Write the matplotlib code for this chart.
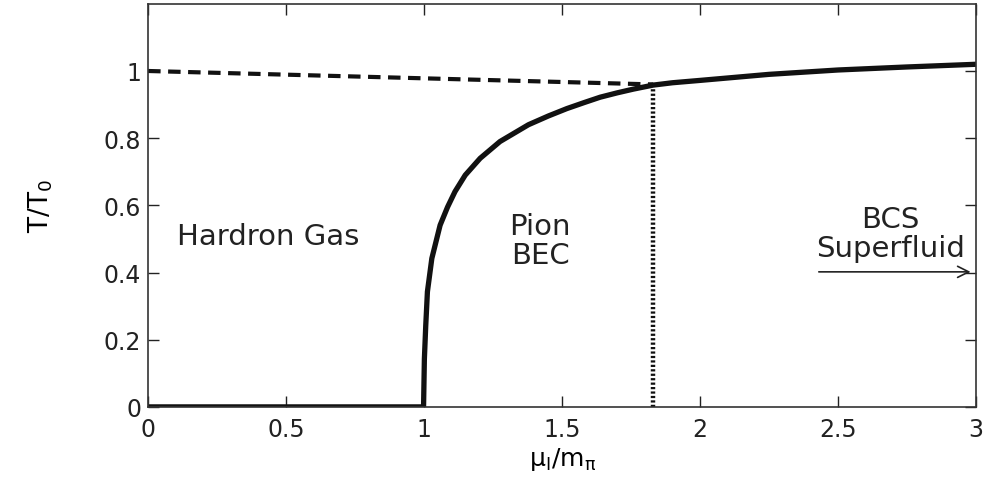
import matplotlib
matplotlib.use("Agg")
import matplotlib.pyplot as plt

plt.rcParams["font.family"] = ["DejaVu Sans"]
plt.rcParams["mathtext.fontset"] = "dejavusans"
plt.rcParams["mathtext.default"] = "regular"

# phase boundary T/T0 vs mu_I/m_pi
mu_solid = [0.0, 0.998, 1.001, 1.006, 1.012, 1.028, 1.058, 1.085, 1.112, 1.149,
            1.203, 1.275, 1.378, 1.45, 1.517, 1.58, 1.638, 1.7, 1.758, 1.83,
            1.9, 2.0, 2.25, 2.5, 2.75, 3.0]
t_solid = [0.0, 0.0, 0.143, 0.243, 0.343, 0.442, 0.541, 0.595, 0.641, 0.69,
           0.74, 0.79, 0.84, 0.866, 0.888, 0.906, 0.922, 0.935, 0.946, 0.958,
           0.965, 0.972, 0.99, 1.003, 1.012, 1.02]

# dashed crossover line
mu_dash = [0.0, 1.83]
t_dash = [1.0, 0.96]

# dotted BEC/BCS crossover
mu_dot = [1.83, 1.83]
t_dot = [0.0, 0.958]

xticks = [0, 0.5, 1, 1.5, 2, 2.5, 3]
xticklabels = ["0", "0.5", "1", "1.5", "2", "2.5", "3"]
yticks = [0, 0.2, 0.4, 0.6, 0.8, 1.0]
yticklabels = ["0", "0.2", "0.4", "0.6", "0.8", "1"]

fig = plt.figure(figsize=(9.94, 4.81), dpi=100)
ax = fig.add_axes([0.149, 0.152, 0.833, 0.838])

ax.plot(mu_solid, t_solid, color="#111111", lw=3.8, solid_joinstyle="round")
ln, = ax.plot(mu_dash, t_dash, color="#111111", lw=3.0)
ln.set_dashes((3.0, 1.8))
ln2, = ax.plot(mu_dot, t_dot, color="#111111", lw=3.2)
ln2.set_dashes((0.5, 0.5))

ax.text(0.105, 0.51, "Hardron Gas", fontsize=21, va="center", ha="left", color="#222222")
ax.text(1.42, 0.495, "Pion\nBEC", fontsize=21, va="center", ha="center",
        linespacing=1.05, color="#222222")
ax.text(2.69, 0.515, "BCS\nSuperfluid", fontsize=21, va="center", ha="center",
        linespacing=1.05, color="#222222")
ax.annotate("", xy=(2.99, 0.402), xytext=(2.42, 0.402),
            arrowprops=dict(arrowstyle="->", color="#222222", lw=1.2,
                            mutation_scale=20))

ax.set_xlim(0, 3)
ax.set_ylim(0, 1.2)
ax.set_xticks(xticks)
ax.set_xticklabels(xticklabels)
ax.set_yticks(yticks)
ax.set_yticklabels(yticklabels)
ax.tick_params(direction="in", length=8, width=1, labelsize=17,
               top=True, right=True, colors="#222222")
ax.tick_params(axis="y", pad=5)
ax.tick_params(axis="x", pad=7)
for s in ax.spines.values():
    s.set_linewidth(1.2)
    s.set_color("#333333")

ax.set_xlabel(r"μ$_I$/m$_π$", fontsize=18)
ax.set_ylabel(r"T/T$_0$", fontsize=19)
ax.xaxis.set_label_coords(0.5, -0.095)
ax.yaxis.set_label_coords(-0.112, 0.5)

fig.savefig("out.png", dpi=100)
